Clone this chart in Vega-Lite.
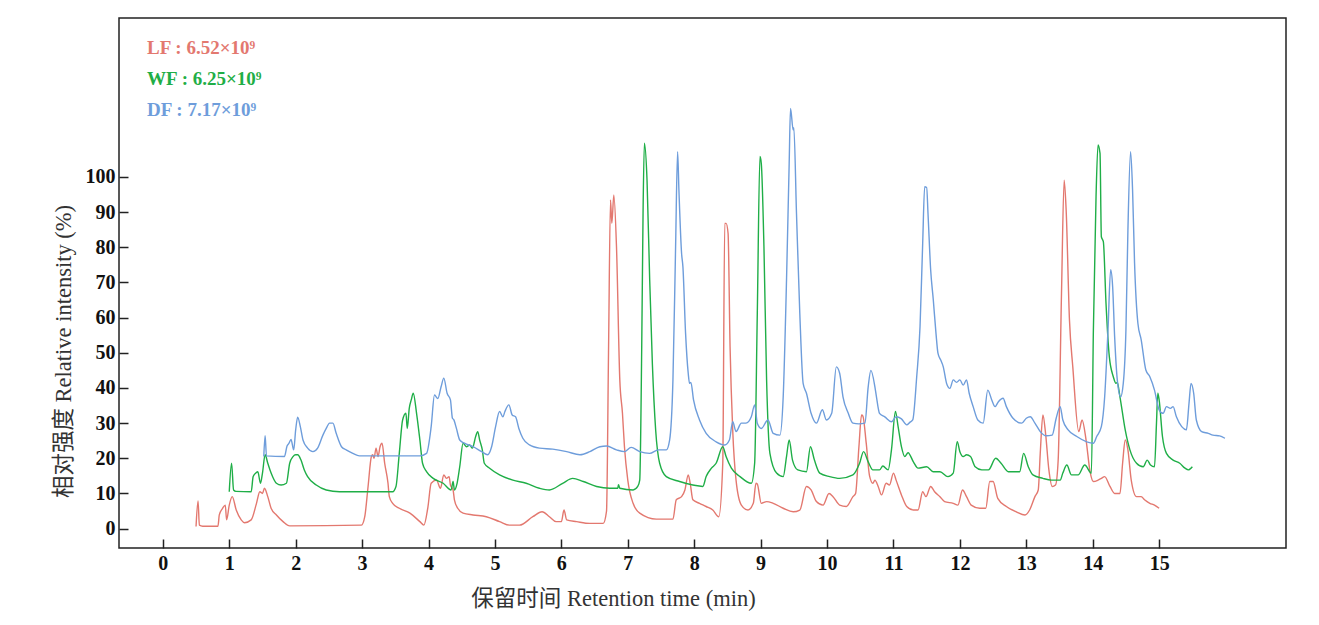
{
  "$schema": "https://vega.github.io/schema/vega-lite/v6.json",
  "autosize": {"type": "none"},
  "padding": {"left": 119, "top": 18, "right": 33, "bottom": 77},
  "width": 1167,
  "height": 530,
  "background": "white",
  "view": {"stroke": "#222222", "strokeWidth": 1.5},
  "data": {"values": [
    {"s":"LF","t":0.50,"v":0.6},{"s":"LF","t":0.53,"v":7.9},{"s":"LF","t":0.55,"v":1.0},{"s":"LF","t":0.60,"v":0.7},{"s":"LF","t":0.83,"v":0.7},
    {"s":"LF","t":0.85,"v":3.9},{"s":"LF","t":0.90,"v":5.8},{"s":"LF","t":0.94,"v":6.7},{"s":"LF","t":0.96,"v":2.5},{"s":"LF","t":1.00,"v":6.7},
    {"s":"LF","t":1.045,"v":9.1},{"s":"LF","t":1.105,"v":5.3},{"s":"LF","t":1.18,"v":2.5},{"s":"LF","t":1.23,"v":1.7},{"s":"LF","t":1.33,"v":2.5},
    {"s":"LF","t":1.41,"v":7.2},{"s":"LF","t":1.46,"v":10.5},{"s":"LF","t":1.50,"v":10.0},{"s":"LF","t":1.53,"v":11.5},{"s":"LF","t":1.58,"v":9.1},
    {"s":"LF","t":1.63,"v":5.8},{"s":"LF","t":1.71,"v":3.9},{"s":"LF","t":1.81,"v":2.0},{"s":"LF","t":1.91,"v":0.8},{"s":"LF","t":2.99,"v":1.0},
    {"s":"LF","t":3.04,"v":3.4},{"s":"LF","t":3.09,"v":12},{"s":"LF","t":3.14,"v":20.5},{"s":"LF","t":3.16,"v":21},{"s":"LF","t":3.18,"v":20},
    {"s":"LF","t":3.21,"v":22.9},{"s":"LF","t":3.24,"v":20.5},{"s":"LF","t":3.27,"v":23.3},{"s":"LF","t":3.30,"v":24.3},{"s":"LF","t":3.34,"v":18.6},
    {"s":"LF","t":3.39,"v":12.9},{"s":"LF","t":3.41,"v":9.1},{"s":"LF","t":3.46,"v":7.2},{"s":"LF","t":3.56,"v":5.8},{"s":"LF","t":3.72,"v":4.4},
    {"s":"LF","t":3.87,"v":2.0},{"s":"LF","t":3.93,"v":1.0},{"s":"LF","t":3.99,"v":6.0},{"s":"LF","t":4.04,"v":12.9},{"s":"LF","t":4.12,"v":13.8},
    {"s":"LF","t":4.18,"v":11.5},{"s":"LF","t":4.23,"v":15.3},{"s":"LF","t":4.27,"v":14.3},{"s":"LF","t":4.31,"v":14.8},{"s":"LF","t":4.33,"v":12.4},
    {"s":"LF","t":4.37,"v":11},{"s":"LF","t":4.39,"v":8.2},{"s":"LF","t":4.44,"v":5.8},{"s":"LF","t":4.52,"v":4.4},{"s":"LF","t":4.67,"v":3.9},
    {"s":"LF","t":4.87,"v":3.4},{"s":"LF","t":5.07,"v":2.0},{"s":"LF","t":5.22,"v":1.0},{"s":"LF","t":5.37,"v":1.0},{"s":"LF","t":5.57,"v":3.4},
    {"s":"LF","t":5.71,"v":4.8},{"s":"LF","t":5.82,"v":3.4},{"s":"LF","t":5.92,"v":2.0},{"s":"LF","t":6.00,"v":2.0},{"s":"LF","t":6.04,"v":5.3},
    {"s":"LF","t":6.08,"v":2.5},{"s":"LF","t":6.23,"v":2.0},{"s":"LF","t":6.43,"v":1.5},{"s":"LF","t":6.63,"v":1.5},{"s":"LF","t":6.68,"v":5},
    {"s":"LF","t":6.71,"v":50},{"s":"LF","t":6.74,"v":93.5},{"s":"LF","t":6.76,"v":86.8},{"s":"LF","t":6.79,"v":94.9},{"s":"LF","t":6.83,"v":80.2},
    {"s":"LF","t":6.88,"v":42.3},{"s":"LF","t":6.92,"v":32.8},{"s":"LF","t":6.95,"v":23.3},{"s":"LF","t":7.00,"v":13.8},{"s":"LF","t":7.08,"v":7.2},
    {"s":"LF","t":7.18,"v":4.4},{"s":"LF","t":7.43,"v":2.7},{"s":"LF","t":7.68,"v":2.7},{"s":"LF","t":7.73,"v":8.2},{"s":"LF","t":7.81,"v":9.1},
    {"s":"LF","t":7.86,"v":11},{"s":"LF","t":7.91,"v":15.3},{"s":"LF","t":7.94,"v":12.9},{"s":"LF","t":7.98,"v":8.2},{"s":"LF","t":8.08,"v":7.2},
    {"s":"LF","t":8.18,"v":6.3},{"s":"LF","t":8.28,"v":5.3},{"s":"LF","t":8.37,"v":3.4},{"s":"LF","t":8.43,"v":18.6},{"s":"LF","t":8.46,"v":86.8},
    {"s":"LF","t":8.48,"v":86.8},{"s":"LF","t":8.51,"v":84},{"s":"LF","t":8.54,"v":51.7},{"s":"LF","t":8.58,"v":28},{"s":"LF","t":8.63,"v":13.8},
    {"s":"LF","t":8.71,"v":6.7},{"s":"LF","t":8.81,"v":5.3},{"s":"LF","t":8.89,"v":7.2},{"s":"LF","t":8.93,"v":12.9},{"s":"LF","t":8.95,"v":12.7},
    {"s":"LF","t":9.01,"v":7.2},{"s":"LF","t":9.09,"v":7.7},{"s":"LF","t":9.19,"v":7.2},{"s":"LF","t":9.34,"v":5.8},{"s":"LF","t":9.49,"v":4.8},
    {"s":"LF","t":9.59,"v":5.3},{"s":"LF","t":9.69,"v":12},{"s":"LF","t":9.76,"v":11},{"s":"LF","t":9.84,"v":7.7},{"s":"LF","t":9.94,"v":6.7},
    {"s":"LF","t":10.03,"v":10},{"s":"LF","t":10.09,"v":9.1},{"s":"LF","t":10.19,"v":6.7},{"s":"LF","t":10.29,"v":6.3},{"s":"LF","t":10.39,"v":9.1},
    {"s":"LF","t":10.43,"v":10},{"s":"LF","t":10.48,"v":23.3},{"s":"LF","t":10.52,"v":32.3},{"s":"LF","t":10.54,"v":32},{"s":"LF","t":10.59,"v":24.3},
    {"s":"LF","t":10.64,"v":15},{"s":"LF","t":10.69,"v":12.9},{"s":"LF","t":10.72,"v":13.8},{"s":"LF","t":10.77,"v":12},{"s":"LF","t":10.82,"v":9.6},
    {"s":"LF","t":10.89,"v":12.9},{"s":"LF","t":10.94,"v":12.4},{"s":"LF","t":11.00,"v":15.8},{"s":"LF","t":11.04,"v":13.8},{"s":"LF","t":11.12,"v":9.6},
    {"s":"LF","t":11.20,"v":6.3},{"s":"LF","t":11.30,"v":5.3},{"s":"LF","t":11.37,"v":5.3},{"s":"LF","t":11.44,"v":10.5},{"s":"LF","t":11.49,"v":9.1},
    {"s":"LF","t":11.56,"v":12},{"s":"LF","t":11.62,"v":10.5},{"s":"LF","t":11.70,"v":9.1},{"s":"LF","t":11.77,"v":7.7},{"s":"LF","t":11.90,"v":7.2},
    {"s":"LF","t":11.97,"v":6.7},{"s":"LF","t":12.04,"v":11},{"s":"LF","t":12.10,"v":9.1},{"s":"LF","t":12.17,"v":6.7},{"s":"LF","t":12.30,"v":5.8},
    {"s":"LF","t":12.39,"v":5.8},{"s":"LF","t":12.45,"v":13.4},{"s":"LF","t":12.50,"v":13.4},{"s":"LF","t":12.57,"v":8.6},{"s":"LF","t":12.70,"v":6.3},
    {"s":"LF","t":12.85,"v":4.8},{"s":"LF","t":12.98,"v":3.9},{"s":"LF","t":13.05,"v":5.3},{"s":"LF","t":13.13,"v":9.1},{"s":"LF","t":13.18,"v":11},
    {"s":"LF","t":13.21,"v":21.4},{"s":"LF","t":13.25,"v":32.3},{"s":"LF","t":13.29,"v":27.1},{"s":"LF","t":13.34,"v":16.7},{"s":"LF","t":13.39,"v":12},
    {"s":"LF","t":13.44,"v":12.4},{"s":"LF","t":13.48,"v":19.5},{"s":"LF","t":13.53,"v":66.9},{"s":"LF","t":13.57,"v":99.1},{"s":"LF","t":13.60,"v":90.6},
    {"s":"LF","t":13.65,"v":59.3},{"s":"LF","t":13.70,"v":46},{"s":"LF","t":13.79,"v":27.6},{"s":"LF","t":13.84,"v":30.9},{"s":"LF","t":13.90,"v":25.2},
    {"s":"LF","t":13.96,"v":16.2},{"s":"LF","t":14.01,"v":13.4},{"s":"LF","t":14.08,"v":13.8},{"s":"LF","t":14.13,"v":14.3},{"s":"LF","t":14.18,"v":14.8},
    {"s":"LF","t":14.26,"v":12},{"s":"LF","t":14.33,"v":10},{"s":"LF","t":14.41,"v":10},{"s":"LF","t":14.45,"v":18.6},{"s":"LF","t":14.49,"v":25.2},
    {"s":"LF","t":14.53,"v":22.4},{"s":"LF","t":14.58,"v":13.8},{"s":"LF","t":14.66,"v":9.1},{"s":"LF","t":14.73,"v":9.1},{"s":"LF","t":14.78,"v":8.2},
    {"s":"LF","t":14.86,"v":7.2},{"s":"LF","t":14.93,"v":6.7},{"s":"LF","t":15.00,"v":5.8},

    {"s":"WF","t":1.00,"v":10.5},{"s":"WF","t":1.035,"v":18.6},{"s":"WF","t":1.065,"v":11},{"s":"WF","t":1.10,"v":10.6},{"s":"WF","t":1.33,"v":10.5},
    {"s":"WF","t":1.36,"v":14.8},{"s":"WF","t":1.40,"v":15.8},{"s":"WF","t":1.43,"v":16.2},{"s":"WF","t":1.47,"v":12.9},{"s":"WF","t":1.50,"v":15.8},
    {"s":"WF","t":1.54,"v":21},{"s":"WF","t":1.58,"v":18.6},{"s":"WF","t":1.63,"v":15.8},{"s":"WF","t":1.71,"v":12.9},{"s":"WF","t":1.78,"v":12.4},
    {"s":"WF","t":1.86,"v":12.9},{"s":"WF","t":1.91,"v":18.6},{"s":"WF","t":1.96,"v":20.5},{"s":"WF","t":2.00,"v":21},{"s":"WF","t":2.03,"v":21},
    {"s":"WF","t":2.08,"v":19.5},{"s":"WF","t":2.13,"v":16.7},{"s":"WF","t":2.18,"v":14.8},{"s":"WF","t":2.31,"v":12.4},{"s":"WF","t":2.46,"v":11},
    {"s":"WF","t":2.66,"v":10.5},{"s":"WF","t":3.46,"v":10.5},{"s":"WF","t":3.51,"v":12},{"s":"WF","t":3.56,"v":21.4},{"s":"WF","t":3.61,"v":30.9},
    {"s":"WF","t":3.66,"v":32.8},{"s":"WF","t":3.68,"v":28.5},{"s":"WF","t":3.71,"v":34.2},{"s":"WF","t":3.74,"v":36.6},{"s":"WF","t":3.77,"v":38.5},
    {"s":"WF","t":3.82,"v":32.8},{"s":"WF","t":3.87,"v":25.2},{"s":"WF","t":3.91,"v":18.6},{"s":"WF","t":3.97,"v":16.2},{"s":"WF","t":4.07,"v":14.3},
    {"s":"WF","t":4.22,"v":12.9},{"s":"WF","t":4.34,"v":11},{"s":"WF","t":4.37,"v":13.4},{"s":"WF","t":4.39,"v":11},{"s":"WF","t":4.43,"v":12.9},
    {"s":"WF","t":4.47,"v":17.6},{"s":"WF","t":4.52,"v":24.3},{"s":"WF","t":4.57,"v":23.3},{"s":"WF","t":4.62,"v":23.8},{"s":"WF","t":4.66,"v":22.9},
    {"s":"WF","t":4.71,"v":26.2},{"s":"WF","t":4.74,"v":27.6},{"s":"WF","t":4.77,"v":25.2},{"s":"WF","t":4.81,"v":22.4},{"s":"WF","t":4.84,"v":18.6},
    {"s":"WF","t":4.92,"v":17.2},{"s":"WF","t":5.07,"v":15.3},{"s":"WF","t":5.27,"v":13.8},{"s":"WF","t":5.47,"v":12.9},{"s":"WF","t":5.67,"v":11.5},
    {"s":"WF","t":5.82,"v":11},{"s":"WF","t":6.02,"v":12.9},{"s":"WF","t":6.17,"v":14.3},{"s":"WF","t":6.33,"v":13.4},{"s":"WF","t":6.53,"v":12},
    {"s":"WF","t":6.73,"v":11.5},{"s":"WF","t":6.85,"v":11.5},{"s":"WF","t":6.86,"v":12.5},{"s":"WF","t":6.88,"v":11.5},{"s":"WF","t":7.08,"v":11},
    {"s":"WF","t":7.15,"v":12},{"s":"WF","t":7.18,"v":13.8},{"s":"WF","t":7.21,"v":51.7},{"s":"WF","t":7.23,"v":89.7},{"s":"WF","t":7.25,"v":109.6},
    {"s":"WF","t":7.29,"v":99},{"s":"WF","t":7.33,"v":70.7},{"s":"WF","t":7.37,"v":47},{"s":"WF","t":7.42,"v":28},{"s":"WF","t":7.48,"v":18.6},
    {"s":"WF","t":7.58,"v":14.8},{"s":"WF","t":7.78,"v":13.4},{"s":"WF","t":7.98,"v":12.4},{"s":"WF","t":8.13,"v":12},{"s":"WF","t":8.18,"v":14.8},
    {"s":"WF","t":8.26,"v":17.2},{"s":"WF","t":8.33,"v":18.6},{"s":"WF","t":8.43,"v":23.3},{"s":"WF","t":8.48,"v":20.5},{"s":"WF","t":8.56,"v":17.2},
    {"s":"WF","t":8.69,"v":14.8},{"s":"WF","t":8.86,"v":12.9},{"s":"WF","t":8.91,"v":18.6},{"s":"WF","t":8.95,"v":61.2},{"s":"WF","t":8.99,"v":105.8},
    {"s":"WF","t":9.01,"v":103.9},{"s":"WF","t":9.05,"v":80.2},{"s":"WF","t":9.09,"v":42.3},{"s":"WF","t":9.14,"v":21.4},{"s":"WF","t":9.24,"v":15.8},
    {"s":"WF","t":9.34,"v":14.8},{"s":"WF","t":9.39,"v":20.5},{"s":"WF","t":9.43,"v":25.2},{"s":"WF","t":9.48,"v":19.5},{"s":"WF","t":9.56,"v":16.7},
    {"s":"WF","t":9.69,"v":16.2},{"s":"WF","t":9.75,"v":23.3},{"s":"WF","t":9.81,"v":19.5},{"s":"WF","t":9.89,"v":15.8},{"s":"WF","t":10.04,"v":14.8},
    {"s":"WF","t":10.19,"v":14.3},{"s":"WF","t":10.39,"v":15.3},{"s":"WF","t":10.49,"v":18.6},{"s":"WF","t":10.55,"v":21.9},{"s":"WF","t":10.62,"v":19},
    {"s":"WF","t":10.69,"v":16.7},{"s":"WF","t":10.79,"v":16.7},{"s":"WF","t":10.84,"v":17.8},{"s":"WF","t":10.92,"v":16.7},{"s":"WF","t":10.97,"v":22.4},
    {"s":"WF","t":11.03,"v":33.3},{"s":"WF","t":11.07,"v":29},{"s":"WF","t":11.12,"v":23.3},{"s":"WF","t":11.17,"v":20.5},{"s":"WF","t":11.22,"v":21.6},
    {"s":"WF","t":11.30,"v":19},{"s":"WF","t":11.37,"v":17.2},{"s":"WF","t":11.50,"v":17.6},{"s":"WF","t":11.60,"v":16.2},{"s":"WF","t":11.70,"v":16.2},
    {"s":"WF","t":11.82,"v":14.8},{"s":"WF","t":11.90,"v":15.8},{"s":"WF","t":11.96,"v":24.7},{"s":"WF","t":12.00,"v":21.9},{"s":"WF","t":12.05,"v":20.5},
    {"s":"WF","t":12.10,"v":21},{"s":"WF","t":12.16,"v":20.5},{"s":"WF","t":12.23,"v":17.6},{"s":"WF","t":12.33,"v":16.7},{"s":"WF","t":12.43,"v":16.7},
    {"s":"WF","t":12.54,"v":20},{"s":"WF","t":12.62,"v":18.6},{"s":"WF","t":12.73,"v":16.2},{"s":"WF","t":12.90,"v":16.2},{"s":"WF","t":12.96,"v":21.4},
    {"s":"WF","t":13.03,"v":17.6},{"s":"WF","t":13.10,"v":15.3},{"s":"WF","t":13.25,"v":14.3},{"s":"WF","t":13.38,"v":13.8},{"s":"WF","t":13.51,"v":13.8},
    {"s":"WF","t":13.55,"v":15.8},{"s":"WF","t":13.61,"v":18.1},{"s":"WF","t":13.68,"v":15.3},{"s":"WF","t":13.78,"v":15.3},{"s":"WF","t":13.88,"v":18.1},
    {"s":"WF","t":13.98,"v":15.8},{"s":"WF","t":14.01,"v":56.5},{"s":"WF","t":14.05,"v":94.4},{"s":"WF","t":14.08,"v":109.1},{"s":"WF","t":14.11,"v":106.7},
    {"s":"WF","t":14.13,"v":83},{"s":"WF","t":14.16,"v":81.6},{"s":"WF","t":14.20,"v":64.1},{"s":"WF","t":14.25,"v":48.9},{"s":"WF","t":14.31,"v":43.2},
    {"s":"WF","t":14.35,"v":41.3},{"s":"WF","t":14.37,"v":41.6},{"s":"WF","t":14.41,"v":37.5},{"s":"WF","t":14.49,"v":28},{"s":"WF","t":14.56,"v":22.4},
    {"s":"WF","t":14.66,"v":18.6},{"s":"WF","t":14.76,"v":17.6},{"s":"WF","t":14.82,"v":19.5},{"s":"WF","t":14.87,"v":18.1},{"s":"WF","t":14.93,"v":17.6},
    {"s":"WF","t":14.96,"v":30},{"s":"WF","t":14.98,"v":38.5},{"s":"WF","t":15.00,"v":36.6},{"s":"WF","t":15.05,"v":26.2},{"s":"WF","t":15.11,"v":21.4},
    {"s":"WF","t":15.21,"v":19.5},{"s":"WF","t":15.31,"v":18.6},{"s":"WF","t":15.39,"v":17.2},{"s":"WF","t":15.44,"v":16.7},{"s":"WF","t":15.50,"v":17.6},

    {"s":"DF","t":1.52,"v":20.5},{"s":"DF","t":1.54,"v":26.4},{"s":"DF","t":1.56,"v":20.7},{"s":"DF","t":1.83,"v":20.5},{"s":"DF","t":1.87,"v":23.5},
    {"s":"DF","t":1.90,"v":24.3},{"s":"DF","t":1.93,"v":25.4},{"s":"DF","t":1.97,"v":22.4},{"s":"DF","t":2.00,"v":28.1},{"s":"DF","t":2.03,"v":31.7},
    {"s":"DF","t":2.07,"v":29},{"s":"DF","t":2.11,"v":25.2},{"s":"DF","t":2.18,"v":22.9},{"s":"DF","t":2.26,"v":21.9},{"s":"DF","t":2.33,"v":22.9},
    {"s":"DF","t":2.41,"v":26.6},{"s":"DF","t":2.46,"v":28.5},{"s":"DF","t":2.51,"v":30},{"s":"DF","t":2.56,"v":30},{"s":"DF","t":2.61,"v":27.1},
    {"s":"DF","t":2.69,"v":23.3},{"s":"DF","t":2.76,"v":22.4},{"s":"DF","t":2.86,"v":21.4},{"s":"DF","t":2.96,"v":20.7},{"s":"DF","t":3.87,"v":20.7},
    {"s":"DF","t":3.97,"v":21.4},{"s":"DF","t":4.04,"v":29},{"s":"DF","t":4.09,"v":38},{"s":"DF","t":4.14,"v":37},{"s":"DF","t":4.19,"v":40.4},
    {"s":"DF","t":4.23,"v":42.8},{"s":"DF","t":4.28,"v":38.5},{"s":"DF","t":4.33,"v":36.6},{"s":"DF","t":4.36,"v":31.4},{"s":"DF","t":4.38,"v":31},
    {"s":"DF","t":4.42,"v":28.5},{"s":"DF","t":4.47,"v":25.2},{"s":"DF","t":4.54,"v":24.3},{"s":"DF","t":4.67,"v":23.3},{"s":"DF","t":4.80,"v":21.9},
    {"s":"DF","t":4.89,"v":21},{"s":"DF","t":4.95,"v":23.3},{"s":"DF","t":5.01,"v":29},{"s":"DF","t":5.07,"v":33.3},{"s":"DF","t":5.12,"v":31.8},
    {"s":"DF","t":5.15,"v":33.3},{"s":"DF","t":5.21,"v":35.2},{"s":"DF","t":5.26,"v":32.3},{"s":"DF","t":5.31,"v":31.8},{"s":"DF","t":5.36,"v":28.5},
    {"s":"DF","t":5.42,"v":25.7},{"s":"DF","t":5.52,"v":23.8},{"s":"DF","t":5.67,"v":22.9},{"s":"DF","t":5.87,"v":22.6},{"s":"DF","t":6.08,"v":21.9},
    {"s":"DF","t":6.28,"v":21},{"s":"DF","t":6.43,"v":21.9},{"s":"DF","t":6.58,"v":23.3},{"s":"DF","t":6.68,"v":23.5},{"s":"DF","t":6.83,"v":22.4},
    {"s":"DF","t":6.95,"v":21.9},{"s":"DF","t":7.05,"v":23.1},{"s":"DF","t":7.18,"v":21.9},{"s":"DF","t":7.33,"v":21.4},{"s":"DF","t":7.46,"v":22.4},
    {"s":"DF","t":7.58,"v":22.4},{"s":"DF","t":7.63,"v":25.2},{"s":"DF","t":7.68,"v":42.3},{"s":"DF","t":7.72,"v":80.2},{"s":"DF","t":7.75,"v":107.2},
    {"s":"DF","t":7.77,"v":96.3},{"s":"DF","t":7.81,"v":78.3},{"s":"DF","t":7.83,"v":74.5},{"s":"DF","t":7.87,"v":55.6},{"s":"DF","t":7.91,"v":44.2},
    {"s":"DF","t":7.93,"v":41.3},{"s":"DF","t":7.95,"v":41.6},{"s":"DF","t":7.99,"v":36.6},{"s":"DF","t":8.08,"v":30.9},{"s":"DF","t":8.18,"v":27.1},
    {"s":"DF","t":8.33,"v":24.7},{"s":"DF","t":8.46,"v":23.8},{"s":"DF","t":8.53,"v":25.2},{"s":"DF","t":8.58,"v":30.4},{"s":"DF","t":8.63,"v":27.6},
    {"s":"DF","t":8.71,"v":30},{"s":"DF","t":8.78,"v":30},{"s":"DF","t":8.86,"v":31.8},{"s":"DF","t":8.91,"v":35.2},{"s":"DF","t":8.95,"v":30},
    {"s":"DF","t":9.01,"v":28.5},{"s":"DF","t":9.11,"v":30.9},{"s":"DF","t":9.19,"v":27.1},{"s":"DF","t":9.29,"v":26.6},{"s":"DF","t":9.34,"v":37.5},
    {"s":"DF","t":9.39,"v":70.7},{"s":"DF","t":9.43,"v":103.9},{"s":"DF","t":9.45,"v":119.5},{"s":"DF","t":9.49,"v":113.4},{"s":"DF","t":9.50,"v":114},
    {"s":"DF","t":9.54,"v":89.7},{"s":"DF","t":9.59,"v":61.2},{"s":"DF","t":9.64,"v":41.3},{"s":"DF","t":9.69,"v":38.5},{"s":"DF","t":9.76,"v":32.8},
    {"s":"DF","t":9.84,"v":30},{"s":"DF","t":9.93,"v":33.8},{"s":"DF","t":9.99,"v":30.9},{"s":"DF","t":10.07,"v":32.8},{"s":"DF","t":10.14,"v":46},
    {"s":"DF","t":10.19,"v":44.2},{"s":"DF","t":10.24,"v":37.5},{"s":"DF","t":10.32,"v":32.8},{"s":"DF","t":10.39,"v":30},{"s":"DF","t":10.48,"v":29.8},
    {"s":"DF","t":10.57,"v":30},{"s":"DF","t":10.62,"v":40.4},{"s":"DF","t":10.66,"v":45},{"s":"DF","t":10.72,"v":40.4},{"s":"DF","t":10.74,"v":38},
    {"s":"DF","t":10.79,"v":32.8},{"s":"DF","t":10.87,"v":31.8},{"s":"DF","t":10.97,"v":30.4},{"s":"DF","t":11.04,"v":31.8},{"s":"DF","t":11.12,"v":31.2},
    {"s":"DF","t":11.20,"v":29.5},{"s":"DF","t":11.25,"v":30.3},{"s":"DF","t":11.29,"v":30.9},{"s":"DF","t":11.35,"v":43.2},{"s":"DF","t":11.40,"v":57.4},
    {"s":"DF","t":11.44,"v":81.1},{"s":"DF","t":11.47,"v":97.2},{"s":"DF","t":11.50,"v":97},{"s":"DF","t":11.52,"v":89.7},{"s":"DF","t":11.56,"v":73.6},
    {"s":"DF","t":11.60,"v":65},{"s":"DF","t":11.64,"v":55.6},{"s":"DF","t":11.67,"v":49.9},{"s":"DF","t":11.71,"v":48},{"s":"DF","t":11.75,"v":46},
    {"s":"DF","t":11.80,"v":41.3},{"s":"DF","t":11.85,"v":39.9},{"s":"DF","t":11.90,"v":42.3},{"s":"DF","t":11.95,"v":41.6},{"s":"DF","t":12.00,"v":42.3},
    {"s":"DF","t":12.05,"v":40.8},{"s":"DF","t":12.10,"v":42.3},{"s":"DF","t":12.14,"v":38.5},{"s":"DF","t":12.20,"v":34.7},{"s":"DF","t":12.27,"v":30.9},
    {"s":"DF","t":12.35,"v":30},{"s":"DF","t":12.42,"v":39.4},{"s":"DF","t":12.48,"v":36.6},{"s":"DF","t":12.53,"v":34.7},{"s":"DF","t":12.58,"v":36.1},
    {"s":"DF","t":12.65,"v":37.1},{"s":"DF","t":12.70,"v":34.7},{"s":"DF","t":12.80,"v":31.4},{"s":"DF","t":12.93,"v":30},{"s":"DF","t":13.00,"v":31.4},
    {"s":"DF","t":13.06,"v":31.8},{"s":"DF","t":13.13,"v":30},{"s":"DF","t":13.21,"v":27.6},{"s":"DF","t":13.30,"v":26.4},{"s":"DF","t":13.39,"v":26.6},
    {"s":"DF","t":13.45,"v":31.4},{"s":"DF","t":13.51,"v":34.7},{"s":"DF","t":13.55,"v":30.9},{"s":"DF","t":13.63,"v":28.1},{"s":"DF","t":13.76,"v":26.2},
    {"s":"DF","t":13.91,"v":24.7},{"s":"DF","t":14.01,"v":24.3},{"s":"DF","t":14.06,"v":26.2},{"s":"DF","t":14.13,"v":29},{"s":"DF","t":14.18,"v":37.5},
    {"s":"DF","t":14.23,"v":56.5},{"s":"DF","t":14.27,"v":73.6},{"s":"DF","t":14.30,"v":68.8},{"s":"DF","t":14.33,"v":54.6},{"s":"DF","t":14.37,"v":42.3},
    {"s":"DF","t":14.42,"v":37.5},{"s":"DF","t":14.46,"v":41.3},{"s":"DF","t":14.50,"v":56.5},{"s":"DF","t":14.53,"v":84.9},{"s":"DF","t":14.57,"v":107.2},
    {"s":"DF","t":14.60,"v":96.3},{"s":"DF","t":14.63,"v":75.5},{"s":"DF","t":14.68,"v":58.4},{"s":"DF","t":14.73,"v":53.7},{"s":"DF","t":14.80,"v":45.1},
    {"s":"DF","t":14.86,"v":43.2},{"s":"DF","t":14.93,"v":39.4},{"s":"DF","t":15.00,"v":33.8},{"s":"DF","t":15.06,"v":32.8},{"s":"DF","t":15.11,"v":34.7},
    {"s":"DF","t":15.17,"v":34.2},{"s":"DF","t":15.21,"v":34.7},{"s":"DF","t":15.26,"v":31.8},{"s":"DF","t":15.34,"v":29},{"s":"DF","t":15.41,"v":28.1},
    {"s":"DF","t":15.45,"v":35.7},{"s":"DF","t":15.48,"v":41.3},{"s":"DF","t":15.52,"v":38.5},{"s":"DF","t":15.56,"v":30.9},{"s":"DF","t":15.64,"v":27.6},
    {"s":"DF","t":15.74,"v":27.1},{"s":"DF","t":15.81,"v":26.6},{"s":"DF","t":15.91,"v":26.4},{"s":"DF","t":15.99,"v":25.7}
  ]},
  "mark": {"type": "line", "strokeWidth": 1.4, "interpolate": "monotone"},
  "encoding": {
    "x": {
      "field": "t",
      "type": "quantitative",
      "scale": {"domain": [-0.66, 16.91], "nice": false, "zero": false},
      "axis": {
        "title": "保留时间 Retention time (min)",
        "values": [0,1,2,3,4,5,6,7,8,9,10,11,12,13,14,15],
        "titleX": 494,
        "titleY": 50,
        "titleAnchor": null,
        "titleAlign": "center",
        "titleBaseline": "middle"
      }
    },
    "y": {
      "field": "v",
      "type": "quantitative",
      "scale": {"domain": [-5.5, 145.2], "nice": false, "zero": false},
      "axis": {
        "title": "相对强度 Relative intensity (%)",
        "values": [0,10,20,30,40,50,60,70,80,90,100],
        "titleX": -56,
        "titleY": 333,
        "titleAngle": -90,
        "titleAlign": "center",
        "titleBaseline": "middle"
      }
    },
    "color": {
      "field": "s",
      "type": "nominal",
      "sort": ["LF", "WF", "DF"],
      "scale": {"domain": ["LF", "WF", "DF"], "range": ["#e3786f", "#1fae47", "#6e9ddb"]},
      "legend": {
        "title": null,
        "orient": "none",
        "legendX": 9,
        "legendY": 20,
        "symbolOpacity": 0,
        "symbolSize": 0,
        "symbolStrokeWidth": 0,
        "labelOffset": 0,
        "labelFont": "Liberation Serif",
        "labelFontWeight": "bold",
        "labelFontSize": 19,
        "labelLimit": 400,
        "rowPadding": 11,
        "labelExpr": "datum.label == 'LF' ? 'LF : 6.52×10⁹' : datum.label == 'WF' ? 'WF : 6.25×10⁹' : 'DF : 7.17×10⁹'",
        "encode": {"labels": {"update": {"fill": {"signal": "scale('color', datum.value)"}}}}
      }
    }
  },
  "config": {
    "axis": {
      "domain": false,
      "grid": false,
      "ticks": true,
      "tickColor": "#222222",
      "tickWidth": 1.5,
      "tickSize": -9,
      "labelFont": "Liberation Serif",
      "labelFontWeight": "bold",
      "labelFontSize": 20,
      "labelColor": "#111111",
      "titleFont": "Liberation Serif, Noto Sans CJK SC",
      "titleFontWeight": "normal",
      "titleFontSize": 22.5,
      "titleColor": "#333333"
    },
    "axisX": {"labelPadding": 14, "labelFlush": false},
    "axisY": {"labelPadding": 13}
  }
}
